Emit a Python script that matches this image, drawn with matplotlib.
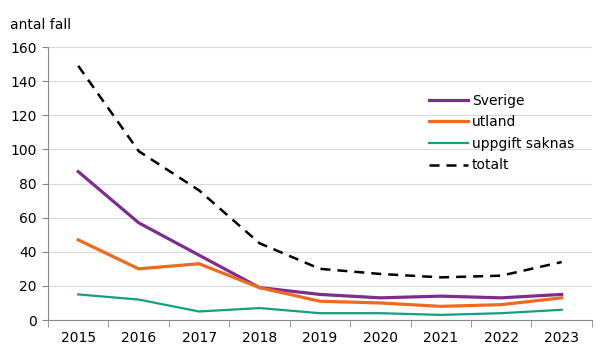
import matplotlib.pyplot as plt

years = ["2015", "2016", "2017", "2018", "2019", "2020", "2021", "2022", "2023"]
sverige = [87, 57, 38, 19, 15, 13, 14, 13, 15]
utland = [47, 30, 33, 19, 11, 10, 8, 9, 13]
saknas = [15, 12, 5, 7, 4, 4, 3, 4, 6]
totalt = [149, 99, 76, 45, 30, 27, 25, 26, 34]

plt.rcParams['font.family'] = ['Verdana', 'DejaVu Sans']
fig = plt.figure(figsize=(6.04, 3.54), dpi=100)
ax = fig.add_axes([0.0795, 0.096, 0.9005, 0.771])

x = range(len(years))
ax.plot(x, sverige, color='#7b2e8e', lw=2.3, label='Sverige')
ax.plot(x, utland, color='#ee6a1f', lw=2.3, label='utland')
ax.plot(x, saknas, color='#13a07f', lw=1.6, label='uppgift saknas')
ax.plot(x, totalt, color='black', lw=1.8, ls=(0, (4, 2.8)), label='totalt')

ax.set_xlim(-0.5, len(years) - 0.5)
ax.set_ylim(0, 160)
ax.set_yticks(range(0, 161, 20))
ax.set_xticks(x)
ax.set_xticklabels(years)
ax.set_xticks([i + 0.5 for i in range(-1, len(years))], minor=True)
ax.tick_params(axis='x', which='major', length=0, pad=8, labelsize=10)
ax.tick_params(axis='x', which='minor', length=5, color='#888888')
ax.tick_params(axis='y', length=4, color='#888888', labelsize=10, pad=4)
ax.grid(axis='y', color='#d9d9d9', lw=0.8)
ax.set_axisbelow(True)
for s in ['top', 'right']:
    ax.spines[s].set_visible(False)
ax.spines['left'].set_color('#888888')
ax.spines['bottom'].set_color('#888888')

fig.text(0.017, 0.93, 'antal fall', fontsize=10, va='center')

ax.legend(loc='upper left', bbox_to_anchor=(0.69, 0.85), frameon=False,
          fontsize=10, handlelength=2.8, handletextpad=0.3, labelspacing=0.55,
          borderaxespad=0)

fig.savefig('out.png', dpi=100)
